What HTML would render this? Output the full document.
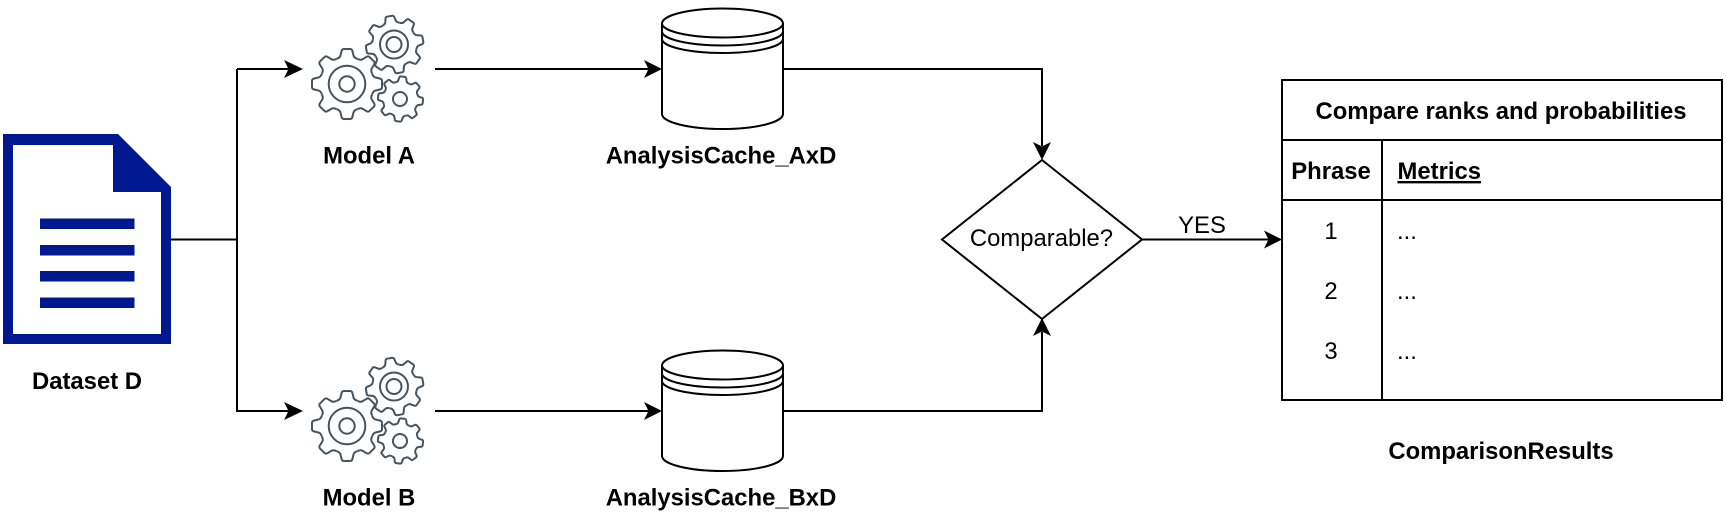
<!DOCTYPE html>
<html><head><meta charset="utf-8"><style>
html,body{margin:0;padding:0;background:#fff;width:1726px;height:520px;overflow:hidden}
svg{display:block}
text{font-family:"Liberation Sans",Arial,sans-serif;font-size:23.85px;fill:#000}
.b{font-weight:bold}
.m{text-anchor:middle}
.l{fill:none;stroke:#000;stroke-width:2}
.g{fill:none;stroke:#47535d;stroke-width:2}
</style></head><body>
<svg width="1726" height="520" viewBox="0 0 1726 520" xmlns="http://www.w3.org/2000/svg">
<defs>
<path id="tooth" vector-effect="non-scaling-stroke" d="M-.298 -.72Q-.22 -.74 -.19 -.8L-.15 -.96Q-.13 -1 -.09 -1L.09 -1Q.13 -1 .15 -.96L.19 -.8Q.22 -.74 .298 -.72"/>
<g id="teeth">
<use href="#tooth"/>
<use href="#tooth" transform="rotate(45)"/>
<use href="#tooth" transform="rotate(90)"/>
<use href="#tooth" transform="rotate(135)"/>
<use href="#tooth" transform="rotate(180)"/>
<use href="#tooth" transform="rotate(225)"/>
<use href="#tooth" transform="rotate(270)"/>
<use href="#tooth" transform="rotate(315)"/>
</g>
<g id="gears" class="g">
<use href="#teeth" transform="translate(347 84) scale(35)"/>
<circle cx="347" cy="84" r="18.3"/>
<circle cx="347" cy="84" r="7.7"/>
<use href="#teeth" transform="translate(394.6 44.5) rotate(-10) scale(28.7)"/>
<circle cx="394" cy="44.5" r="14"/>
<circle cx="394" cy="44.5" r="7.5"/>
<use href="#teeth" transform="translate(400.5 99) rotate(6) scale(22.5)"/>
<circle cx="400" cy="99" r="7"/>
</g>
<g id="cyl" class="l">
<path fill="#fff" d="M662 23.5A60.5 15 0 0 1 783 23.5V114A60.5 15 0 0 1 662 114Z"/>
<path d="M662 23.5A60.5 14 0 0 0 783 23.5"/>
<path d="M662 31.5A60.5 14 0 0 0 783 31.5"/>
<path d="M662 39A60.5 14 0 0 0 783 39"/>
</g>
</defs>

<!-- document icon -->
<path fill="#00188f" fill-rule="evenodd" d="M3 134H118L171 187V344H3ZM13 145V334H161V192H113V145Z"/>
<rect x="40" y="218.5" width="94.500" height="10.500" fill="#00188f"/>
<rect x="40" y="245" width="94.500" height="10.500" fill="#00188f"/>
<rect x="40" y="271" width="94.500" height="10.500" fill="#00188f"/>
<rect x="40" y="297.500" width="94.500" height="10.500" fill="#00188f"/>
<text class="b m" x="87" y="389">Dataset D</text>

<!-- connectors -->
<path class="l" d="M171 239.500H237M237 69V411H290M237 69H290"/>
<path d="M303 69L284 60L288.500 69L284 78Z"/>
<path d="M303 411L284 402L288.500 411L284 420Z"/>
<path class="l" d="M435 69H650M435 411H650"/>
<path d="M662 69L644 60L648.500 69L644 78Z"/>
<path d="M662 411L644 402L648.500 411L644 420Z"/>
<path class="l" d="M783 69H1042V146M783 411H1042V332"/>
<path d="M1042 160L1033 142L1042 146.500L1051 142Z"/>
<path d="M1042 318L1033 336L1042 331.500L1051 336Z"/>
<path class="l" d="M1142 239.500H1270"/>
<path d="M1282 239.500L1264 230.500L1268.500 239.500L1264 248.500Z"/>

<!-- gears -->
<use href="#gears"/>
<use href="#gears" transform="translate(0 342)"/>
<text class="b m" x="369" y="163.500">Model A</text>
<text class="b m" x="369" y="505.500">Model B</text>

<!-- cylinders -->
<use href="#cyl"/>
<use href="#cyl" transform="translate(0 342)"/>
<text class="b m" x="721" y="163.500">AnalysisCache_AxD</text>
<text class="b m" x="721" y="505.500">AnalysisCache_BxD</text>

<!-- decision -->
<path class="l" d="M1042 160L1142 239.500L1042 319L942 239.500Z"/>
<text class="m" x="1041.500" y="246">Comparable?</text>
<text class="m" x="1202" y="233">YES</text>

<!-- table -->
<rect class="l" x="1282" y="80" width="440" height="320"/>
<path class="l" d="M1282 140H1722M1282 200H1722M1382 140V400"/>
<text class="b m" x="1501" y="119">Compare ranks and probabilities</text>
<text class="b m" x="1331" y="179">Phrase</text>
<text class="b" x="1397.500" y="179" text-decoration="underline">Metrics</text>
<text class="m" x="1331" y="239">1</text>
<text class="m" x="1331" y="299">2</text>
<text class="m" x="1331" y="359">3</text>
<text x="1397" y="239">...</text>
<text x="1397" y="299">...</text>
<text x="1397" y="359">...</text>
<text class="b m" x="1501" y="459">ComparisonResults</text>
</svg>
</body></html>
